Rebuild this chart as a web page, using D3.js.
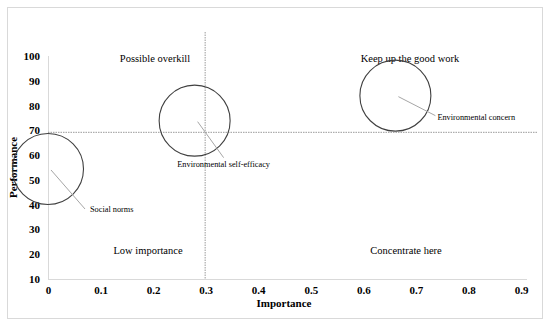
<!DOCTYPE html>
<html>
<head>
<meta charset="utf-8">
<script src="https://cdn.jsdelivr.net/npm/d3@7"></script>
<style>
  body { margin: 0; background: #fff; }
  svg, svg text { font-family: "Liberation Serif", "DejaVu Serif", serif !important; }
</style>
</head>
<body>
<div id="chart"></div>
<script>
// factors: importance (x), performance (y)
const factors = ['Social norms', 'Environmental self-efficacy', 'Environmental concern'];
const importance = [0, 0.279, 0.661];
const performance = [54.4, 73.9, 84.0];
const xTicks = [0, 0.1, 0.2, 0.3, 0.4, 0.5, 0.6, 0.7, 0.8, 0.9];
const yTicks = [10, 20, 30, 40, 50, 60, 70, 80, 90, 100];
// quadrant split lines
const meanImportance = 0.299;
const meanPerformance = 69.2;
const quadrants = ['Possible overkill', 'Keep up the good work', 'Low importance', 'Concentrate here'];

const FONT = '"Liberation Serif", "DejaVu Serif", serif';
const W = 550, H = 328;
const svg = d3.select('#chart').append('svg')
  .attr('width', W).attr('height', H)
  .attr('font-family', FONT);

// outer frame
svg.append('rect')
  .attr('x', 7.5).attr('y', 7.5).attr('width', 535).attr('height', 311)
  .attr('fill', 'none').attr('stroke', '#d9d9d9');

const x = d3.scaleLinear().domain([0, 0.9]).range([48, 521]);
const y = d3.scaleLinear().domain([10, 100]).range([279, 56]);

// axes
const xAxis = svg.append('g').attr('transform', `translate(0,${y(10)})`)
  .call(d3.axisBottom(x).tickValues(xTicks).tickSize(0).tickPadding(7)
    .tickFormat(d => d === 0 ? '0' : d3.format('.1f')(d)));
xAxis.attr('font-family', FONT);
xAxis.select('.domain').attr('stroke', '#d9d9d9').attr('d', `M${x(0)},0.5H${x(0.9) + 6}`);
xAxis.selectAll('text').attr('font-size', 11).attr('font-weight', 'bold');

const yAxis = svg.append('g').attr('transform', `translate(${x(0)},0)`)
  .call(d3.axisLeft(y).tickValues(yTicks).tickSize(0).tickPadding(8));
yAxis.attr('font-family', FONT);
yAxis.select('.domain').attr('stroke', '#d9d9d9').attr('d', `M0.5,${y(100)}V${y(10)}`);
yAxis.selectAll('text').attr('font-size', 11).attr('font-weight', 'bold');

// axis titles
svg.append('text').attr('x', 284).attr('y', 307).attr('text-anchor', 'middle')
  .attr('font-size', 11).attr('font-weight', 'bold').text('Importance');
svg.append('text').attr('transform', `translate(17,${(y(10) + y(100)) / 2}) rotate(-90)`)
  .attr('text-anchor', 'middle').attr('font-size', 11).attr('font-weight', 'bold')
  .text('Performance');

// dotted split lines
svg.append('line')
  .attr('x1', x(0)).attr('x2', 538)
  .attr('y1', y(meanPerformance)).attr('y2', y(meanPerformance))
  .attr('stroke', '#808080').attr('stroke-width', 0.8).attr('stroke-dasharray', '1.5,1');
svg.append('line')
  .attr('x1', x(meanImportance)).attr('x2', x(meanImportance))
  .attr('y1', 32).attr('y2', y(10))
  .attr('stroke', '#808080').attr('stroke-width', 0.8).attr('stroke-dasharray', '1.5,1');

// quadrant labels
const qPos = [[155, 62], [410, 62], [148, 254], [406, 254]];
svg.selectAll('.quad').data(quadrants).join('text')
  .attr('class', 'quad')
  .attr('x', (d, i) => qPos[i][0]).attr('y', (d, i) => qPos[i][1])
  .attr('text-anchor', 'middle').attr('font-size', 10.5)
  .text(d => d);

// bubbles
const pts = factors.map((f, i) => ({ name: f, cx: x(importance[i]), cy: y(performance[i]) }));
svg.selectAll('.bubble').data(pts).join('circle')
  .attr('class', 'bubble')
  .attr('cx', d => d.cx).attr('cy', d => d.cy).attr('r', 35.5)
  .attr('fill', 'none').attr('stroke', '#404040').attr('stroke-width', 1.1);

// leader lines + labels
const labelOff = [[37, 40], [29, 37], [40, 20]];
const labelTxt = [[42, 43, 'start'], [29, 46, 'middle'], [42, 24, 'start']];
svg.selectAll('.leader').data(pts).join('line')
  .attr('class', 'leader')
  .attr('x1', d => d.cx + 3).attr('y1', d => d.cy + 1)
  .attr('x2', (d, i) => d.cx + labelOff[i][0]).attr('y2', (d, i) => d.cy + labelOff[i][1])
  .attr('stroke', '#a6a6a6').attr('stroke-width', 1);
svg.selectAll('.lbl').data(pts).join('text')
  .attr('class', 'lbl')
  .attr('x', (d, i) => d.cx + labelTxt[i][0]).attr('y', (d, i) => d.cy + labelTxt[i][1])
  .attr('text-anchor', (d, i) => labelTxt[i][2]).attr('font-size', 8.3)
  .text(d => d.name);
</script>
</body>
</html>
